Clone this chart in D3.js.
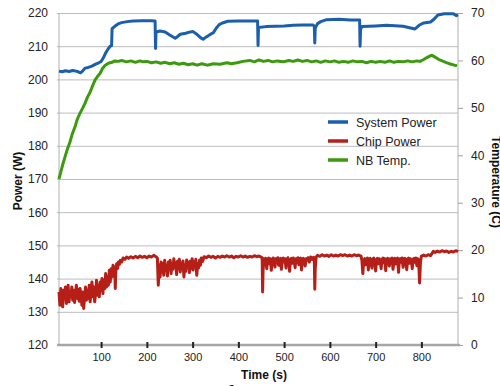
<!DOCTYPE html>
<html>
<head>
<meta charset="utf-8">
<script src="https://cdn.jsdelivr.net/npm/d3@7"></script>
<style>
  body { margin: 0; background: #fff; }
  svg { display: block; font-family: "Liberation Sans", Arial, sans-serif; }
  .tick text { fill: #222; }
</style>
</head>
<body>
<svg id="chart" width="500" height="386"></svg>
<script>
// time ticks and axis ticks
var timeTicks = [100, 200, 300, 400, 500, 600, 700, 800];
var powerTicks = [120, 130, 140, 150, 160, 170, 180, 190, 200, 210, 220];
var tempTicks = [0, 10, 20, 30, 40, 50, 60, 70];

// system power (W), [time, value]
var systemPower = [[8,202.5],[15,202.3],[22,202.6],[30,202.4],[38,202.7],[45,202.5],[50,202.3],[55,202.0],[60,202.6],
  [65,203.4],[72,203.6],[80,204.0],[88,204.6],[95,205.0],[100,205.4],[105,206.5],[110,208.0],[116,209.3],[120,210.0],
  [123,210.2],[124,215.3],[130,216.0],[137,216.7],[145,217.1],[157,217.4],[170,217.6],[190,217.7],[210,217.7],
  [218,217.6],[219,209.3],[220,214.3],[229,214.6],[235,214.4],[240,214.3],[250,213.4],[262,212.4],[268,213.0],
  [273,213.6],[285,213.9],[295,214.3],[301,214.4],[310,213.5],[318,212.5],[323,212.1],[330,212.8],[340,213.7],
  [345,214.0],[352,215.5],[358,216.5],[365,217.0],[377,217.5],[400,217.6],[420,217.6],[442,217.6],[443,210.2],
  [444,215.6],[460,215.9],[480,216.0],[500,216.1],[520,216.3],[540,216.4],[563,216.4],[566,216.0],[567,211.0],
  [568,215.5],[573,216.8],[580,217.4],[593,218.0],[620,218.1],[645,217.9],[665,217.9],[666,210.0],[667,215.0],
  [670,215.9],[700,216.1],[724,216.3],[760,216.0],[786,215.2],[795,216.3],[805,217.0],[820,217.3],[828,218.2],
  [836,219.4],[850,219.8],[870,219.8],[876,219.2],[880,219.5]];

// chip power (W)
var chipPower = [[8,136],[10,132],[12,137],[14,133],[16,131.5],[18,136.5],[20,134],[22,137.5],[24,132.5],[26,135],
  [28,138],[30,133],[32,136],[34,134.5],[36,137.5],[38,133.5],[40,136.5],[42,132.8],[44,135.5],[46,138],[48,134],
  [50,136.8],[52,133.2],[54,137],[56,135],[58,132],[60,136],[62,131],[64,134.5],[66,137.5],[68,133.5],[70,136.5],
  [72,134],[74,138],[76,133],[78,136],[80,139],[82,134.5],[84,137.5],[86,133],[88,135.5],[90,139.5],[92,135],
  [94,138],[96,134.5],[98,139],[100,136.5],[102,140],[104,135.5],[106,139.5],[108,137],[110,141.5],[112,137.5],
  [114,140.5],[116,138],[118,142.5],[120,139],[122,143],[124,140.5],[126,144],[128,141],[130,143.5],[131,137],
  [132,142],[134,144.5],[136,143],[138,145],[140,144.3],[142,145.5],[145,145],[148,146.2],[152,145.8],[156,146.5],
  [160,146.1],[165,146.6],[170,146.2],[175,146.7],[180,146.3],[185,146.8],[190,146.4],[195,146.7],[200,146.3],
  [205,146.8],[210,146.5],[215,147],[220,146.6],[223,146.2],[225,138],[227,144],[229,140.5],[231,145],[233,142],
  [235,144.5],[237,141],[239,145.5],[241,142.5],[243,144],[245,140.8],[247,145],[249,143],[251,145.5],[253,141.5],
  [255,144.5],[257,142.8],[259,146],[261,143.5],[263,144.8],[265,141.2],[267,145.2],[269,143],[271,145.8],[273,142],
  [275,144.6],[277,143.4],[279,145.3],[281,140.5],[283,144],[285,142.2],[287,145.6],[289,143.5],[291,144.9],
  [293,141.8],[295,145.2],[297,143],[299,146],[301,142.6],[303,145],[305,143.8],[307,145.8],[309,141],[311,144.5],
  [313,143.2],[315,145.5],[317,144],[319,146.2],[322,145.2],[325,146.6],[330,146.3],[335,146.8],[340,146.4],
  [345,146.7],[350,146.2],[355,146.7],[360,146.4],[365,146.8],[370,146.5],[375,146.9],[380,146.5],[385,146.8],
  [390,146.3],[395,146.7],[400,146.5],[405,146.9],[410,146.5],[415,146.8],[420,146.4],[425,146.7],[430,146.5],
  [435,146.9],[440,146.6],[445,146.8],[450,146.5],[452,146.2],[453,136],[454,142.5],
  [456,146],[458,145.2],[460,146.1],[462,143],[464,145.8],[466,146.2],[468,144.5],[470,146],[472,142.5],[474,145.5],
  [476,146.2],[478,145.4],[480,143.5],[482,146],[484,145.6],[486,146.3],[488,144],[490,145.9],[492,146.1],
  [494,142.8],[496,145.7],[498,146.2],[500,145],[502,146],[504,143.2],[506,145.6],[508,146.3],[510,145.5],
  [512,142.2],[514,145.8],[516,146.1],[518,144.6],[520,146.2],[522,145.3],[524,143.3],[526,146],[528,145.5],
  [530,146.3],[532,144.2],[534,145.9],[536,146.2],[538,142.6],[540,145.8],[542,146.1],[544,145.2],[546,143.8],
  [548,146],[550,145.6],[552,146.3],[555,145],
  [558,146.5],[561,145.8],[564,146.4],[566,145.5],[567,136.8],[568,143],[570,146.5],[573,147],[578,146.7],
  [583,147.2],[588,146.8],[593,147.1],[598,146.7],[603,147.2],[608,146.8],[613,147.1],[618,146.8],[623,147.2],
  [628,146.9],[633,147.2],[638,146.8],[643,147.1],[648,146.8],[653,147.2],[658,146.9],[663,147.1],[668,146.8],
  [670,145.5],[672,141.5],[674,145.5],[676,146],[678,144.2],[680,145.8],[682,146.2],[684,142.6],[686,145.7],
  [688,146.1],[690,145],[692,143.2],[694,145.9],[696,146.2],[698,145.4],[700,142.3],[702,145.6],[704,146.1],
  [706,144.5],[708,146],[710,145.5],[712,143],[714,145.8],[716,146.2],[718,144.8],[720,146],[722,142.4],
  [724,145.7],[726,146.1],[728,145],[730,143.8],[732,146],[734,145.6],[736,146.2],[738,142.8],[740,145.5],
  [742,146.1],[744,144.4],[746,145.9],[748,146.2],[750,141.9],[752,145.6],[754,146],[756,144.9],[758,146.2],
  [760,143.4],[762,145.8],[764,146.1],[766,145.2],[768,142.7],[770,145.9],[772,146.2],[774,144.6],[776,146],
  [778,145.4],[780,143],[782,145.8],[784,146.1],[786,144.9],[788,146.2],[790,143.9],[792,146],[794,145.5],
  [796,138.7],[798,145],
  [800,146.8],[805,147.1],[810,146.8],[815,147.2],[820,146.9],[823,147.5],[826,148.2],[830,147.9],[835,148.3],
  [840,148],[845,148.4],[850,148.1],[855,148.3],[860,147.9],[865,148.2],[870,148],[875,148.4],[880,148.1]];

// north bridge temperature (C)
var nbTemp = [[8,35.0],[12,36.5],[16,38.0],[21,39.6],[26,41.2],[32,42.8],[37,44.5],[43,46.0],[48,47.6],[54,48.9],
  [60,50.0],[65,51.0],[70,52.2],[76,53.3],[82,54.8],[87,55.9],[92,56.6],[98,57.3],[103,58.3],[109,59.0],[116,59.4],
  [124,59.6],[130,59.9],[137,59.8],[145,60.0],[155,59.7],[165,59.9],[175,59.6],[185,59.9],[192,59.7],[200,59.8],
  [210,59.5],[220,59.7],[230,59.4],[240,59.6],[250,59.3],[260,59.5],[270,59.2],[280,59.4],[290,59.1],[300,59.3],
  [310,59.0],[320,59.3],[332,59.0],[345,59.3],[360,59.2],[375,59.5],[385,59.3],[397,59.5],[410,59.8],[425,60.0],
  [435,59.7],[445,60.1],[455,59.8],[465,60.0],[475,59.7],[485,59.9],[498,59.7],[510,60.0],[520,59.8],[530,60.1],
  [540,59.8],[550,60.0],[560,59.7],[570,59.9],[580,59.6],[590,59.9],[600,59.7],[610,59.9],[620,59.6],[630,59.8],
  [640,59.6],[650,59.9],[660,59.7],[670,59.8],[680,59.5],[690,59.8],[700,59.6],[710,59.8],[720,59.6],[730,59.9],
  [740,59.6],[750,59.8],[760,59.7],[770,59.9],[780,59.7],[790,59.9],[797,59.8],[805,60.2],[812,60.6],[818,60.9],
  [823,61.1],[828,60.8],[833,60.5],[840,60.1],[848,59.8],[856,59.5],[865,59.2],[872,59.0],[878,58.9]];

var seriesNames = ["System Power", "Chip Power", "NB Temp."];
var seriesColors = ["#1b5eab", "#b61f17", "#3d9a0e"];

var svg = d3.select("#chart");
var plotLeft = 59, plotRight = 458, plotTop = 13, plotBottom = 345;

var x = d3.scaleLinear().domain([8, 880]).range([plotLeft, plotRight]);
var yL = d3.scaleLinear().domain([120, 220]).range([plotBottom, plotTop]);
var yR = d3.scaleLinear().domain([0, 70]).range([plotBottom, plotTop]);

// left axis with gridlines
var gL = svg.append("g")
    .attr("transform", "translate(" + (plotLeft - 2) + ",0)")
    .call(d3.axisLeft(yL).tickValues(powerTicks).tickSize(-(plotRight - plotLeft + 2)).tickSizeOuter(0).tickPadding(9));
gL.select(".domain").remove();
gL.selectAll(".tick line").attr("stroke", "#bcbcbc");
gL.selectAll(".tick text").style("font-size", "12px");

// frame lines
svg.append("line").attr("x1", plotLeft).attr("x2", plotLeft).attr("y1", plotTop).attr("y2", plotBottom)
    .attr("stroke", "#b0b0b0");
svg.append("line").attr("x1", plotRight).attr("x2", plotRight).attr("y1", plotTop).attr("y2", plotBottom)
    .attr("stroke", "#b0b0b0");

// right axis
var gR = svg.append("g")
    .attr("transform", "translate(" + plotRight + ",0)")
    .call(d3.axisRight(yR).tickValues(tempTicks).tickSize(5).tickSizeOuter(0).tickPadding(8));
gR.select(".domain").remove();
gR.selectAll(".tick line").attr("stroke", "#a0a0a0");
gR.selectAll(".tick text").style("font-size", "12px");

// bottom axis
svg.append("line").attr("x1", plotLeft - 2).attr("x2", plotRight + 2).attr("y1", plotBottom).attr("y2", plotBottom)
    .attr("stroke", "#a6a6a6").attr("stroke-width", 2.5);
var gB = svg.append("g")
    .attr("transform", "translate(0," + (plotBottom - 3) + ")")
    .call(d3.axisBottom(x).tickValues(timeTicks).tickSize(6).tickSizeOuter(0).tickPadding(5));
gB.select(".domain").remove();
gB.selectAll(".tick line").attr("stroke", "#222").attr("stroke-width", 2);
gB.selectAll(".tick text").style("font-size", "11px");

// lines
var lineL = d3.line().x(function (d) { return x(d[0]); }).y(function (d) { return yL(d[1]); });
var lineR = d3.line().x(function (d) { return x(d[0]); }).y(function (d) { return yR(d[1]); });

svg.append("path").datum(nbTemp).attr("d", lineR)
    .attr("fill", "none").attr("stroke", seriesColors[2]).attr("stroke-width", 3)
    .attr("stroke-linejoin", "round");
svg.append("path").datum(chipPower).attr("d", lineL)
    .attr("fill", "none").attr("stroke", seriesColors[1]).attr("stroke-width", 3)
    .attr("stroke-linejoin", "round");
svg.append("path").datum(systemPower).attr("d", lineL)
    .attr("fill", "none").attr("stroke", seriesColors[0]).attr("stroke-width", 3)
    .attr("stroke-linejoin", "round");

// legend
var legend = svg.append("g").attr("transform", "translate(328,122)");
seriesNames.forEach(function (name, i) {
    var row = legend.append("g").attr("transform", "translate(0," + (i * 19) + ")");
    row.append("line").attr("x1", 0).attr("x2", 20).attr("y1", 0).attr("y2", 0)
        .attr("stroke", seriesColors[i]).attr("stroke-width", 3.5);
    row.append("text").attr("x", 28).attr("y", 4.5).style("font-size", "12.5px")
        .attr("fill", "#222").text(name);
});

// axis titles
svg.append("text").attr("x", 264).attr("y", 379).attr("text-anchor", "middle")
    .style("font-size", "12px").style("font-weight", "bold").attr("fill", "#111").text("Time (s)");
svg.append("text").attr("transform", "translate(22,181) rotate(-90)").attr("text-anchor", "middle")
    .style("font-size", "12px").style("font-weight", "bold").attr("fill", "#111").text("Power (W)");
svg.append("text").attr("transform", "translate(492,182) rotate(90)").attr("text-anchor", "middle")
    .style("font-size", "12px").style("font-weight", "bold").attr("fill", "#111").text("Temperature (C)");

// caption cut off by the bottom edge
svg.append("text").attr("x", 3).attr("y", 401)
    .style("font-family", "'Liberation Serif', serif").style("font-size", "24px")
    .attr("fill", "#111").text("Power consumption and temperature");
</script>
</body>
</html>
